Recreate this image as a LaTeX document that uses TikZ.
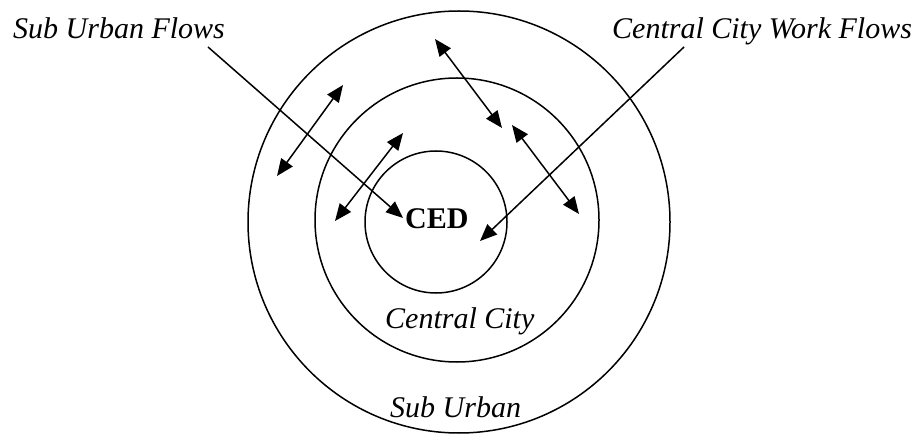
\documentclass[tikz,border=0pt]{standalone}
\usepackage{fontspec}
\setmainfont{Liberation Serif}
\usetikzlibrary{arrows.meta}
\begin{document}
\begin{tikzpicture}[x=1pt,y=-1pt,
  ring/.style={draw=black,line width=1.5pt},
  lbl/.style={inner sep=0pt,anchor=base west,font=\fontsize{30}{36}\selectfont\itshape},
  flow/.style={line width=1.5pt,-{Triangle[length=17pt,width=14pt]}},
  both/.style={line width=1.5pt,{Triangle[length=17pt,width=14pt]}-{Triangle[length=17pt,width=14pt]}}]
\useasboundingbox (0,0) rectangle (917,435);
% rings
\draw[ring] (459,222) circle[radius=211pt];
\draw[ring] (457,220) circle[radius=142pt];
\draw[ring] (436,222) circle[radius=71pt];
% labels
\node[lbl] (suf) at (13,39) {Sub Urban Flows};
\node[lbl] (ccwf) at (612,39) {Central City Work Flows};
\node[lbl] (cc) at (385,328) {Central City};
\node[lbl] (su) at (390,417) {Sub Urban};
\node[inner sep=0pt,anchor=base west,font=\fontsize{30}{36}\selectfont\bfseries] (ced) at (405,229) {CED};
% pointer coordinates
\coordinate (sufs) at (208,47);
\coordinate (sufe) at (403,218);
\coordinate (ccs) at (684,47);
\coordinate (cce) at (480,241);
\coordinate (a1) at (277,176);
\coordinate (a2) at (343,85);
\coordinate (b1) at (335,221);
\coordinate (b2) at (403,133);
\coordinate (c1) at (435,39);
\coordinate (c2) at (502,128);
\coordinate (d1) at (512,125);
\coordinate (d2) at (579,214);
% arrows
\draw[flow] (sufs) -- (sufe);
\draw[flow] (ccs) -- (cce);
\draw[both] (a1) -- (a2);
\draw[both] (b1) -- (b2);
\draw[both] (c1) -- (c2);
\draw[both] (d1) -- (d2);
\end{tikzpicture}
\end{document}
